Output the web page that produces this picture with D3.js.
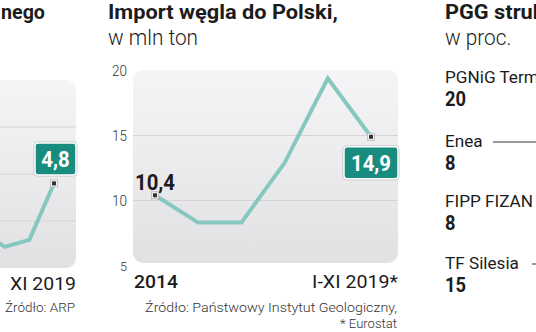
<!DOCTYPE html>
<html><head><meta charset="utf-8">
<script src="https://cdn.jsdelivr.net/npm/d3@7"></script>
<style>body{margin:0;background:#fff;overflow:hidden}svg{display:block}</style>
</head><body><svg id="c" width="536" height="332"></svg>
<script>
// ---- data ----
const years = ["2014", "2015", "2016", "2017", "2018", "I-XI 2019*"];
const importValues = [10.4, 8.3, 8.3, 12.9, 19.4, 14.9];
const yTicks = [5, 10, 15, 20];
const leftValues = [3.8, 3.45, 3.6, 4.8];
const leftGrid = [4, 5, 6];
const shareLabels = ["PGNiG Termika", "Enea", "FIPP FIZAN", "TF Silesia"];
const shareValues = [20, 8, 8, 15];

const svg = d3.select("#c");
const F = "Roboto, 'Open Sans', 'DejaVu Sans', sans-serif";
const LINE = "#86c8c0", TEAL = "#198c80", INK = "#1c1c1c";

const defs = svg.append("defs");
const gr = defs.append("linearGradient").attr("id", "bg").attr("x1", 0).attr("y1", 0).attr("x2", 0).attr("y2", 1);
gr.append("stop").attr("offset", "0%").attr("stop-color", "#f5f5f7");
gr.append("stop").attr("offset", "100%").attr("stop-color", "#e1e1e3");

function txt(g, s, x, y, o) {
  const t = g.append("text").attr("font-family", F).attr("font-size", o.size)
    .attr("font-weight", o.weight || 400).attr("fill", o.fill || INK)
    .attr("text-anchor", o.anchor || "start").text(s);
  let sx = o.sx || 1;
  if (o.w) { sx = o.w / t.node().getComputedTextLength(); }
  t.attr("transform", `translate(${x},${y}) scale(${sx},1)`);
  return sx;
}
function measure(s, size, weight, w) {
  const t = svg.append("text").attr("font-family", F).attr("font-size", size).attr("font-weight", weight).text(s);
  const n = t.node().getComputedTextLength(); t.remove(); return w / n;
}
function marker(g, x, y) {
  g.append("rect").attr("x", x - 3.5).attr("y", y - 3.5).attr("width", 7).attr("height", 7)
    .attr("fill", "#f2f2f2").attr("stroke", "#b8b8b8").attr("stroke-width", 0.8);
  g.append("rect").attr("x", x - 2).attr("y", y - 2).attr("width", 4).attr("height", 4).attr("fill", "#333");
}
function badge(g, cx, top, w, h, s, sx) {
  g.append("rect").attr("x", cx - w / 2).attr("y", top).attr("width", w).attr("height", h)
    .attr("rx", 3).attr("fill", TEAL).attr("stroke", "#fff").attr("stroke-width", 1.5);
  g.append("rect").attr("x", cx - w / 2 - 1.2).attr("y", top - 1.2).attr("width", w + 2.4).attr("height", h + 2.4)
    .attr("rx", 4).attr("fill", "none").attr("stroke", "#c9c9c9").attr("stroke-width", 0.8);
  txt(g, s, cx, top + h / 2 + 8, { size: 22, weight: 700, fill: "#fff", anchor: "middle", sx: sx });
}
const fmt = v => String(v).replace(".", ",");
const numSx = measure("10,4", 22, 700, 40);

// ---- left partial chart ----
const L = svg.append("g");
const ly = d3.scaleLinear().domain([3, 7]).range([268, 80]);
const lx = d3.scaleLinear().domain([0, leftValues.length - 1]).range([-20, 54]);
L.append("rect").attr("x", -30).attr("y", ly(7)).attr("width", 106).attr("height", ly(3) - ly(7)).attr("rx", 10).attr("fill", "url(#bg)");
L.selectAll(".lg").data(leftGrid).join("line").attr("x1", 0).attr("x2", 76)
  .attr("y1", d => ly(d)).attr("y2", d => ly(d)).attr("stroke", "#d4d4d6").attr("stroke-width", 1);
L.append("path").datum(leftValues).attr("fill", "none").attr("stroke", LINE).attr("stroke-width", 4)
  .attr("d", d3.line().x((d, i) => lx(i)).y(d => ly(d)));
const li = leftValues.length - 1;
marker(L, lx(li), ly(leftValues[li]));
badge(L, 55.5, 143, 41, 32, fmt(leftValues[li]), numSx);

// ---- middle chart ----
const M = svg.append("g");
const y = d3.scaleLinear().domain([5, 20]).range([265.5, 70.5]);
const x = d3.scaleLinear().domain([0, years.length - 1]).range([155, 371]);
M.append("rect").attr("x", 133).attr("y", 70).attr("width", 265).attr("height", 193).attr("rx", 10).attr("fill", "url(#bg)");
M.selectAll(".g").data(yTicks.filter(d => d > 5 && d < 20)).join("line").attr("x1", 133).attr("x2", 398)
  .attr("y1", d => y(d)).attr("y2", d => y(d)).attr("stroke", "#d4d4d6").attr("stroke-width", 1);
const tsx = measure("20", 14, 300, 15);
yTicks.forEach(d => txt(M, String(d), 127, y(d) + 5, { size: d === 5 ? 13 : 14, weight: 300, fill: "#333", anchor: "end", sx: tsx }));
M.append("path").datum(importValues).attr("fill", "none").attr("stroke", LINE).attr("stroke-width", 4)
  .attr("d", d3.line().x((d, i) => x(i)).y(d => y(d)));

txt(M, fmt(importValues[0]), x(0), y(importValues[0]) - 5, { size: 22, weight: 700, anchor: "middle", sx: numSx });
marker(M, x(0), y(importValues[0]));
const last = importValues.length - 1;
marker(M, x(last), y(importValues[last]));
badge(M, x(last), y(importValues[last]) + 10, 54, 32, fmt(importValues[last]), numSx);

// axis end labels
txt(svg, years[0], 134, 288, { size: 18, weight: 500, w: 44 });
txt(svg, years[last], 398, 288, { size: 18, weight: 400, anchor: "end", w: 86 });
txt(svg, "XI 2019", 76, 290, { size: 18, weight: 400, anchor: "end", w: 66 });

// sources
txt(svg, "Źródło: Państwowy Instytut Geologiczny,", 397, 312, { size: 13.5, weight: 300, fill: "#333", anchor: "end", w: 252 });
txt(svg, "* Eurostat", 397, 328, { size: 13.5, weight: 300, fill: "#333", anchor: "end", w: 57 });
txt(svg, "Źródło: ARP", 75, 312, { size: 13.5, weight: 300, fill: "#333", anchor: "end", w: 70 });

// titles
const titleSx = txt(svg, "Import węgla do Polski,", 108, 19, { size: 21, weight: 700, w: 230 });
txt(svg, "nego", 1, 19, { size: 21, weight: 700, w: 44 });
txt(svg, "PGG struktura akcjonariatu", 445, 19, { size: 21, weight: 700, sx: titleSx });
const subSx = txt(svg, "w mln ton", 108, 45, { size: 22, weight: 300, w: 90 });
txt(svg, "w proc.", 445, 45, { size: 22, weight: 300, sx: subSx });

// ---- right list ----
const R = svg.append("g");
const labBase = [83, 147, 207, 269];
const labSx = measure("FIPP FIZAN", 17, 400, 88);
const nSx = measure("20", 20, 700, 21);
shareLabels.forEach((s, i) => {
  txt(R, s, 445, labBase[i], { size: 17, weight: 400, sx: labSx });
  txt(R, String(shareValues[i]), 445, labBase[i] + 23, { size: 20, weight: 700, sx: nSx });
});
R.append("line").attr("x1", 493).attr("x2", 536).attr("y1", 142).attr("y2", 142).attr("stroke", "#333").attr("stroke-width", 1);
R.append("line").attr("x1", 532).attr("x2", 536).attr("y1", 264).attr("y2", 264).attr("stroke", "#333").attr("stroke-width", 1);
</script></body></html>
